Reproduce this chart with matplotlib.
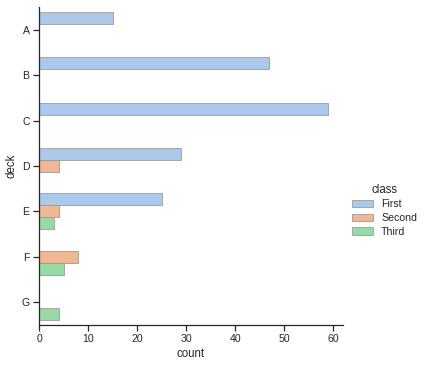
import matplotlib
matplotlib.use("Agg")
import matplotlib.pyplot as plt
import numpy as np
import seaborn as sns

sns.set_theme(style="ticks", context="notebook")
plt.rcParams['font.family'] = ['Liberation Sans', 'DejaVu Sans']
plt.rcParams.update({'font.size': 11, 'axes.labelsize': 11.5,
                     'xtick.labelsize': 10.5, 'ytick.labelsize': 10.5,
                     'legend.fontsize': 10.5, 'legend.title_fontsize': 11.5})

decks = ["A", "B", "C", "D", "E", "F", "G"]
classes = ["First", "Second", "Third"]
first = [15, 47, 59, 29, 25, 0, 0]
second = [0, 0, 0, 4, 4, 8, 0]
third = [0, 0, 0, 0, 3, 5, 4]
colors = [sns.desaturate(c, 0.75) for c in ["#a1c9f4", "#ffb482", "#8de5a1"]]

fig = plt.figure(figsize=(425/72, 366/72), dpi=72)
ax = fig.add_axes([0.092, 0.113, 0.715, 0.867])

series = [first, second, third]
w = 0.8 / 3
ypos = np.arange(len(decks))
handles = []
for j, (vals, c, name) in enumerate(zip(series, colors, classes)):
    vals = np.array(vals)
    mask = vals > 0
    off = (j - 1) * w
    ax.barh(ypos[mask] + off, vals[mask], height=w, color=c,
            edgecolor=(0.6, 0.6, 0.6), linewidth=0.8)
    handles.append(plt.Rectangle((0, 0), 1, 1, facecolor=c,
                                 edgecolor=(0.6, 0.6, 0.6), linewidth=0.8))

ax.set_yticks(ypos)
ax.set_yticklabels(decks)
ax.set_ylim(len(decks) - 0.5, -0.5)
ax.set_xlim(0, 62)
ax.set_xticks([0, 10, 20, 30, 40, 50, 60])
ax.set_xlabel("count")
ax.set_ylabel("deck")
sns.despine(ax=ax)

fig.legend(handles, classes, title="class", loc="center left",
           bbox_to_anchor=(0.805, 0.426), frameon=False,
           handlelength=2.0, labelspacing=0.35)

fig.savefig("out.png", dpi=72)
